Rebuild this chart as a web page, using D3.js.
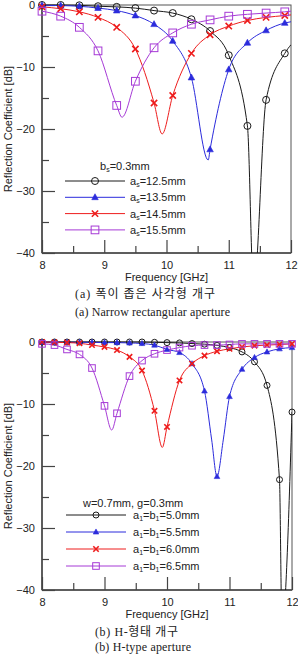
<!DOCTYPE html>
<html>
<head>
<meta charset="utf-8">
<script src="https://cdn.jsdelivr.net/npm/d3@7"></script>
<style>
  body { margin: 0; background: #fff; }
  svg { display: block; }
</style>
</head>
<body>
<script>
// ---- data ----
// (a) narrow rectangular aperture, markers every 0.3 GHz
const freqA = [8.0, 8.3, 8.6, 8.9, 9.2, 9.5, 9.8, 10.1, 10.4, 10.7, 11.0, 11.3, 11.6, 11.9];
const a12_5 = [0, 0, -0.05, -0.2, -0.3, -0.5, -0.9, -1.3, -2.3, -4.2, -8.1, -19.5, -15.3, -7.8];
const a13_5 = [-0.05, -0.1, -0.2, -0.5, -0.9, -1.7, -3.1, -5.8, -11.7, -23.3, -10.4, -6.1, -4.1, -2.9];
const a14_5 = [-0.3, -0.6, -1.1, -2.0, -3.6, -7.1, -15.8, -14.6, -7.8, -4.8, -3.4, -2.5, -2.0, -1.7];
const a15_5 = [-1.0, -1.8, -3.6, -7.4, -16.2, -12.3, -6.9, -4.5, -3.1, -2.4, -1.8, -1.5, -1.3, -1.1];
// curve points between markers (resonance dips and the 12 GHz end)
const a12_5Extra = [[11.40, -46], [12.0, -6.4]];
const a13_5Extra = [[10.67, -25.0], [12.0, -2.7]];
const a14_5Extra = [[9.93, -20.8], [12.0, -1.6]];
const a15_5Extra = [[9.285, -18.1], [12.0, -1.0]];

// (b) H-type aperture, markers every 0.2 GHz
const freqB = [8.0, 8.2, 8.4, 8.6, 8.8, 9.0, 9.2, 9.4, 9.6, 9.8, 10.0, 10.2, 10.4, 10.6, 10.8, 11.0, 11.2, 11.4, 11.6, 11.8, 12.0];
const b5_0 = [0, 0, 0, 0, 0, 0, 0, 0, 0, -0.05, -0.1, -0.15, -0.25, -0.35, -0.55, -0.9, -1.6, -3.2, -7.0, -22.2, -11.3];
const b5_5 = [-0.05, -0.05, -0.05, -0.05, -0.05, -0.1, -0.1, -0.15, -0.25, -0.5, -1.2, -1.7, -3.5, -7.9, -21.7, -8.8, -4.4, -2.5, -1.6, -1.1, -0.9];
const b6_0 = [0, -0.05, -0.1, -0.2, -0.5, -0.8, -1.3, -2.4, -4.6, -11.1, -13.7, -6.2, -3.5, -2.2, -1.5, -1.1, -0.8, -0.6, -0.5, -0.4, -0.3];
const b6_5 = [-0.3, -0.5, -1.2, -2.0, -4.2, -10.3, -11.5, -5.5, -3.0, -1.9, -1.3, -0.9, -0.6, -0.5, -0.5, -0.4, -0.3, -0.3, -0.3, -0.3, -0.3];
const b5_0Extra = [[11.84, -46]];
const b5_5Extra = [[10.715, -15.8], [10.90, -15.8]];
const b6_0Extra = [[9.925, -17.0]];
const b6_5Extra = [[9.115, -14.2]];

const xTicks = [8, 9, 10, 11, 12];
const xMinor = [8.5, 9.5, 10.5, 11.5];
const yTicks = [0, -10, -20, -30, -40];
const yMinor = [-5, -15, -25, -35];

const legendA = ['12.5mm', '13.5mm', '14.5mm', '15.5mm'];
const legendB = ['5.0mm', '5.5mm', '6.0mm', '6.5mm'];

// ---- styles ----
const colors = ['#1a1a1a', '#2b2bdc', '#ee1c1c', '#a63ad6'];
const shapes = ['circle', 'triangle', 'x', 'square'];

const W = 298, H = 656;
const svg = d3.select('body').append('svg')
  .attr('width', W)
  .attr('height', H)
  .style('font-family', '"Liberation Sans", Arial, sans-serif');

function drawMarker(g, shape, cx, cy, color, s) {
  if (shape === 'circle') {
    g.append('circle').attr('cx', cx).attr('cy', cy).attr('r', s * 0.5)
      .attr('fill', 'none').attr('stroke', color).attr('stroke-width', 1);
  } else if (shape === 'triangle') {
    const h = s * 0.85;
    g.append('path')
      .attr('d', `M${cx},${cy - h * 0.6}L${cx + h * 0.55},${cy + h * 0.4}L${cx - h * 0.55},${cy + h * 0.4}Z`)
      .attr('fill', color).attr('stroke', color).attr('stroke-width', 0.6);
  } else if (shape === 'x') {
    const r = s * 0.45;
    g.append('path')
      .attr('d', `M${cx - r},${cy - r}L${cx + r},${cy + r}M${cx - r},${cy + r}L${cx + r},${cy - r}`)
      .attr('stroke', color).attr('stroke-width', 1.6).attr('fill', 'none');
  } else {
    const r = s * 0.55;
    g.append('rect').attr('x', cx - r).attr('y', cy - r).attr('width', 2 * r).attr('height', 2 * r)
      .attr('fill', 'none').attr('stroke', color).attr('stroke-width', 1);
  }
}

function panel(opt) {
  const g = svg.append('g');
  const x = d3.scaleLinear().domain([8, 12]).range([opt.left, opt.right]);
  const y = d3.scaleLinear().domain([0, -40]).range([opt.top, opt.bottom]);

  const clipId = 'clip' + opt.id;
  svg.append('clipPath').attr('id', clipId)
    .append('rect')
    .attr('x', opt.left).attr('y', opt.top - 1)
    .attr('width', opt.right - opt.left).attr('height', opt.bottom - opt.top + 1);

  // frame
  g.append('rect')
    .attr('x', opt.left).attr('y', opt.top)
    .attr('width', opt.right - opt.left).attr('height', opt.bottom - opt.top)
    .attr('fill', 'none').attr('stroke', '#555').attr('stroke-width', 1);

  // axes with inward ticks
  const xAxis = g.append('g').attr('transform', `translate(0,${opt.bottom})`)
    .call(d3.axisBottom(x).tickValues(xTicks).tickSize(-13).tickPadding(8).tickFormat(d3.format('d')));
  const xAxisMinor = g.append('g').attr('transform', `translate(0,${opt.bottom})`)
    .call(d3.axisBottom(x).tickValues(xMinor).tickSize(-7).tickFormat(''));
  const yAxis = g.append('g').attr('transform', `translate(${opt.left},0)`)
    .call(d3.axisLeft(y).tickValues(yTicks).tickSize(-13).tickPadding(7).tickFormat(d3.format('d')));
  const yAxisMinor = g.append('g').attr('transform', `translate(${opt.left},0)`)
    .call(d3.axisLeft(y).tickValues(yMinor).tickSize(-7).tickFormat(''));
  [xAxis, xAxisMinor, yAxis, yAxisMinor].forEach((a) => {
    a.select('.domain').remove();
    a.selectAll('line').attr('stroke', '#444').attr('stroke-width', 1.2);
    a.selectAll('text').attr('font-size', 11).attr('fill', '#222')
      .attr('font-family', '"Liberation Sans", Arial, sans-serif');
  });
  // heavier left / bottom axis lines
  g.append('line').attr('x1', opt.left).attr('x2', opt.left).attr('y1', opt.top).attr('y2', opt.bottom)
    .attr('stroke', '#444').attr('stroke-width', 1.5);
  g.append('line').attr('x1', opt.left).attr('x2', opt.right).attr('y1', opt.bottom).attr('y2', opt.bottom)
    .attr('stroke', '#444').attr('stroke-width', 1.5);

  // curves
  const line = d3.line()
    .x((d) => x(d[0]))
    .y((d) => y(d[1]))
    .curve(d3.curveMonotoneX);

  opt.series.forEach((vals, k) => {
    const pts = opt.freq.map((f, i) => [f, vals[i]])
      .concat(opt.extra[k])
      .sort((a, b) => a[0] - b[0]);
    g.append('path')
      .attr('d', line(pts))
      .attr('fill', 'none')
      .attr('stroke', colors[k])
      .attr('stroke-width', 1)
      .attr('clip-path', `url(#${clipId})`);
  });
  opt.series.forEach((vals, k) => {
    opt.freq.forEach((f, i) => {
      drawMarker(g, shapes[k], x(f), y(vals[i]), colors[k], opt.markerSize);
    });
  });

  // axis titles
  g.append('text')
    .attr('transform', `translate(12,${(opt.top + opt.bottom) / 2}) rotate(-90)`)
    .attr('text-anchor', 'middle')
    .attr('font-size', 11).attr('fill', '#222')
    .text('Reflection Coefficient [dB]');
  g.append('text')
    .attr('x', (opt.left + opt.right) / 2)
    .attr('y', opt.bottom + 28)
    .attr('text-anchor', 'middle')
    .attr('font-size', 11).attr('fill', '#222')
    .text('Frequency [GHz]');

  // legend
  const lg = opt.legend;
  const title = g.append('text').attr('x', lg.titleX).attr('y', lg.titleY)
    .attr('font-size', 11).attr('fill', '#222');
  lg.title(title);
  opt.labels.forEach((lab, k) => {
    const cy = lg.rowY + k * lg.rowStep;
    g.append('line').attr('x1', lg.x0).attr('x2', lg.x1).attr('y1', cy).attr('y2', cy)
      .attr('stroke', colors[k]).attr('stroke-width', 1);
    drawMarker(g, shapes[k], (lg.x0 + lg.x1) / 2, cy, colors[k], opt.markerSize);
    const t = g.append('text').attr('x', lg.textX).attr('y', cy + 4)
      .attr('font-size', 11).attr('fill', '#222');
    lg.label(t, lab);
  });

  // captions
  opt.captions.forEach((c) => {
    svg.append('text')
      .attr('x', c.x).attr('y', c.y)
      .attr('font-size', 12)
      .attr('fill', '#222')
      .attr('font-family', '"Liberation Serif", "Noto Sans CJK KR", serif')
      .attr('textLength', c.w)
      .attr('lengthAdjust', 'spacing')
      .text(c.text);
  });
}

panel({
  id: 'a',
  left: 42, right: 291, top: 5, bottom: 253,
  freq: freqA,
  series: [a12_5, a13_5, a14_5, a15_5],
  extra: [a12_5Extra, a13_5Extra, a14_5Extra, a15_5Extra],
  markerSize: 7,
  labels: legendA,
  legend: {
    titleX: 100, titleY: 170,
    rowY: 181, rowStep: 16.3,
    x0: 65, x1: 125, textX: 130,
    title: (t) => {
      t.append('tspan').text('b');
      t.append('tspan').attr('font-size', 7).attr('dy', 2).text('s');
      t.append('tspan').attr('dy', -2).text('=0.3mm');
    },
    label: (t, lab) => {
      t.append('tspan').text('a');
      t.append('tspan').attr('font-size', 7).attr('dy', 2).text('s');
      t.append('tspan').attr('dy', -2).text('=' + lab);
    }
  },
  captions: [
    { x: 75, y: 298, w: 140, text: '(a) 폭이 좁은 사각형 개구' },
    { x: 75, y: 316, w: 155, text: '(a) Narrow rectangular aperture' }
  ]
});

panel({
  id: 'b',
  left: 42, right: 292, top: 342, bottom: 590,
  freq: freqB,
  series: [b5_0, b5_5, b6_0, b6_5],
  extra: [b5_0Extra, b5_5Extra, b6_0Extra, b6_5Extra],
  markerSize: 6,
  labels: legendB,
  legend: {
    titleX: 83, titleY: 507,
    rowY: 515, rowStep: 17,
    x0: 66, x1: 126, textX: 133,
    title: (t) => { t.text('w=0.7mm, g=0.3mm'); },
    label: (t, lab) => {
      t.append('tspan').text('a');
      t.append('tspan').attr('font-size', 7).attr('dy', 2).text('1');
      t.append('tspan').attr('dy', -2).text('=b');
      t.append('tspan').attr('font-size', 7).attr('dy', 2).text('1');
      t.append('tspan').attr('dy', -2).text('=' + lab);
    }
  },
  captions: [
    { x: 95, y: 636, w: 83, text: '(b) H-형태 개구' },
    { x: 95, y: 651, w: 96, text: '(b) H-type aperture' }
  ]
});
</script>
</body>
</html>
